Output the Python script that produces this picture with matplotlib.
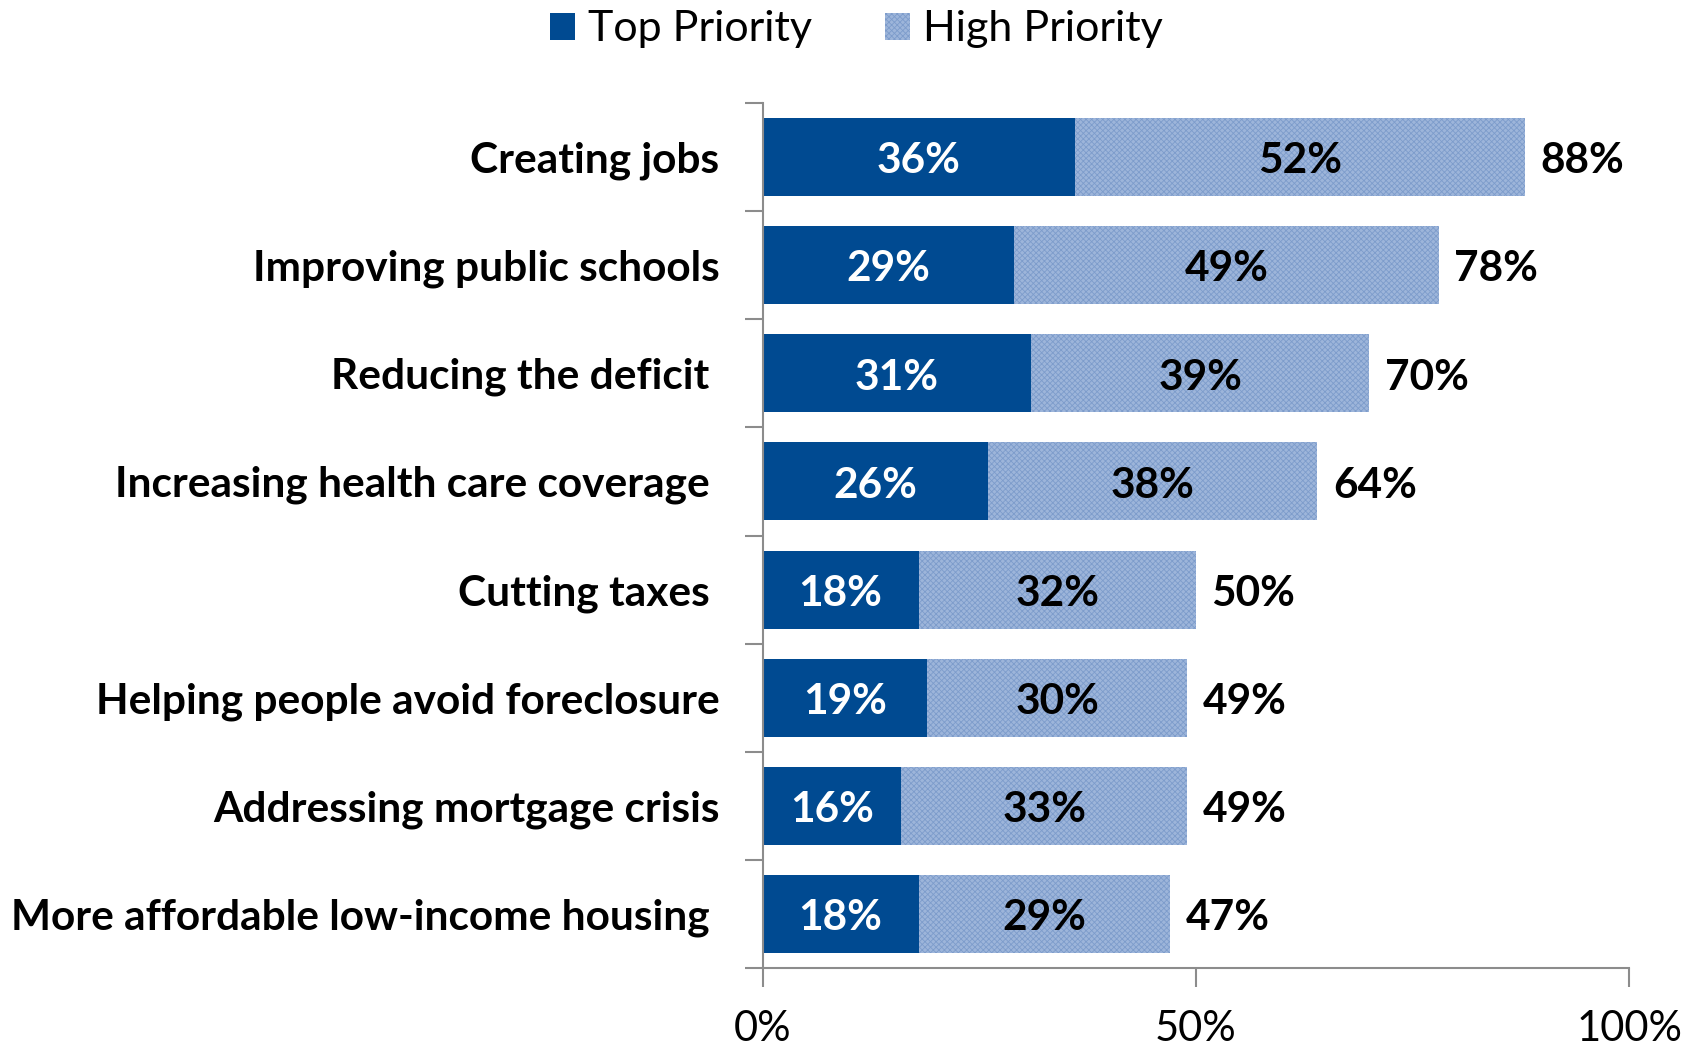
import numpy as np
import matplotlib.pyplot as plt
from matplotlib.patches import Patch

# survey results, top row first
categories = [
    "Creating jobs",
    "Improving public schools",
    "Reducing the deficit ",
    "Increasing health care coverage ",
    "Cutting taxes ",
    "Helping people avoid foreclosure",
    "Addressing mortgage crisis",
    "More affordable low-income housing ",
]
top_priority = [36, 29, 31, 26, 18, 19, 16, 18]
high_priority = [52, 49, 39, 38, 32, 30, 33, 29]
totals = [88, 78, 70, 64, 50, 49, 49, 47]
xticks = [0, 50, 100]

dark_blue = "#004a91"
light_blue = "#9db5da"
axis_gray = "#8c8c8c"

plt.rcParams["font.family"] = ["Lato", "DejaVu Sans"]
plt.rcParams["hatch.linewidth"] = 0.6

fig = plt.figure(figsize=(17.06, 10.5), dpi=100)
ax = fig.add_axes([0.447, 0.078, 0.508, 0.824])

y = np.arange(len(categories))[::-1]
h = 0.72
fs = 30.5

ax.barh(y, top_priority, height=h, color=dark_blue, edgecolor="none")
ax.barh(y, high_priority, left=top_priority, height=h, color=light_blue,
        edgecolor="#7d9ccb", hatch="xxxxxx", linewidth=0)

for yi, t, hp, tot in zip(y, top_priority, high_priority, totals):
    ax.text(t / 2, yi - 0.04, f"{t}%", ha="center", va="center", color="white",
            fontsize=fs, fontweight="bold")
    ax.text(t + hp / 2, yi - 0.04, f"{hp}%", ha="center", va="center", color="black",
            fontsize=fs, fontweight="bold")
    ax.text(t + hp + 1.8, yi - 0.04, f"{tot}%", ha="left", va="center", color="black",
            fontsize=fs, fontweight="bold")

ax.set_xlim(0, 100)
ax.set_ylim(-0.5, len(categories) - 0.5)

ax.set_xticks(xticks)
ax.set_xticklabels([f"{v}%" for v in xticks], fontsize=30)
ax.tick_params(axis="x", direction="out", length=14, width=1.5, color=axis_gray, pad=16)

# category names as labels, ticks sit between the bars
ax.set_yticks(y)
ax.set_yticklabels(categories, fontsize=fs, fontweight="bold")
ax.tick_params(axis="y", length=0, pad=31)
ax.set_yticks(np.arange(-0.5, len(categories), 1.0), minor=True)
ax.tick_params(axis="y", which="minor", direction="out", length=13, width=1.5, color=axis_gray)

for side in ["top", "right"]:
    ax.spines[side].set_visible(False)
for side in ["left", "bottom"]:
    ax.spines[side].set_color(axis_gray)
    ax.spines[side].set_linewidth(1.5)

handles = [
    Patch(facecolor=dark_blue, edgecolor="none", label="Top Priority"),
    Patch(facecolor=light_blue, edgecolor="#7d9ccb", hatch="xxxxxx", linewidth=0, label="High Priority"),
]
fig.legend(handles=handles, loc="center", bbox_to_anchor=(0.502, 0.972), ncol=2,
           frameon=False, fontsize=31, handlelength=0.58, handleheight=0.58,
           handletextpad=0.3, columnspacing=1.7)

fig.savefig("out.png", dpi=100)
